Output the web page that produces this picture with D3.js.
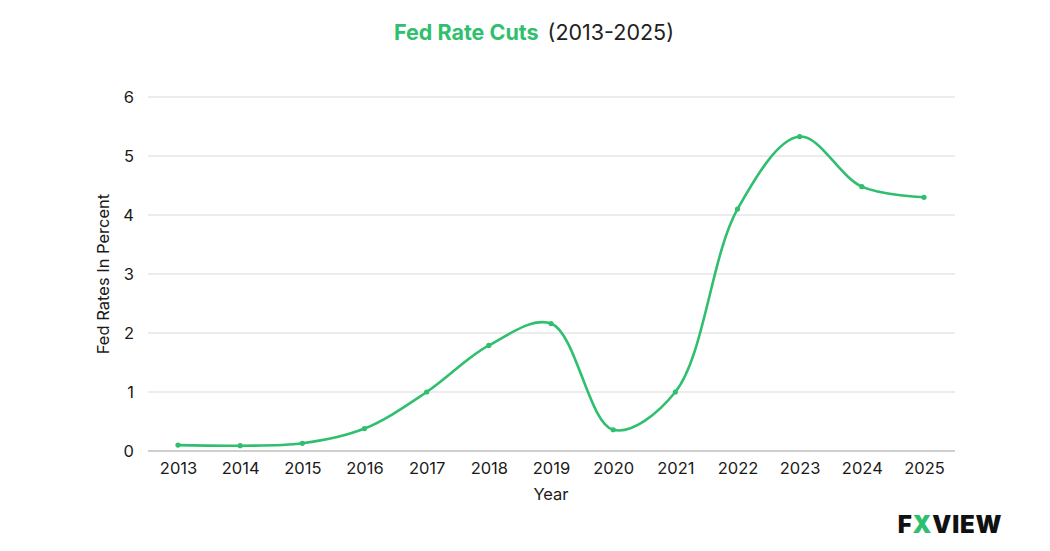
<!DOCTYPE html>
<html>
<head>
<meta charset="UTF-8">
<title>Fed Rate Cuts</title>
<script src="https://cdn.jsdelivr.net/npm/d3@7"></script>
<style>
    body { margin: 0; background: #fff; }
    text { font-family: "Inter", "Open Sans", sans-serif; fill: #1a1a1a; }
</style>
</head>
<body>
<svg id="chart"></svg>
<script>
    var years = [2013, 2014, 2015, 2016, 2017, 2018, 2019, 2020, 2021, 2022, 2023, 2024, 2025];
    var rates = [0.10, 0.09, 0.13, 0.38, 1.00, 1.79, 2.16, 0.36, 1.00, 4.10, 5.33, 4.48, 4.30];
    var yTicks = [0, 1, 2, 3, 4, 5, 6];

    var w = 1050, h = 551;
    var green = "#2fbf6e";

    var svg = d3.select("#chart").attr("width", w).attr("height", h);

    var x = d3.scalePoint().domain(years).range([178, 924]);
    var y = d3.scaleLinear().domain([0, 6]).range([451, 97]);

    // gridlines
    svg.append("g").selectAll("line").data(yTicks).enter().append("line")
        .attr("x1", 148).attr("x2", 955)
        .attr("y1", function (d) { return y(d); })
        .attr("y2", function (d) { return y(d); })
        .attr("stroke", function (d) { return d === 0 ? "#cfcfcf" : "#e6e6e6"; })
        .attr("stroke-width", function (d) { return d === 0 ? 2 : 1.3; });

    // y axis labels
    var yAxis = svg.append("g").attr("transform", "translate(141,0)")
        .call(d3.axisLeft(y).tickValues(yTicks).tickFormat(d3.format("d")).tickSize(0).tickPadding(7));
    yAxis.select(".domain").remove();
    yAxis.selectAll("text").attr("font-size", 16.5).style("font-family", null);

    // x axis labels
    var xAxis = svg.append("g").attr("transform", "translate(0,458)")
        .call(d3.axisBottom(x).tickSize(0).tickPadding(4));
    xAxis.select(".domain").remove();
    xAxis.selectAll("text").attr("font-size", 16.5).style("font-family", null);

    // axis titles
    svg.append("text").attr("x", 551).attr("y", 500)
        .attr("text-anchor", "middle").attr("font-size", 16.5).text("Year");
    svg.append("text")
        .attr("transform", "translate(109,274) rotate(-90)")
        .attr("text-anchor", "middle").attr("font-size", 16.5).text("Fed Rates In Percent");

    // line
    var data = years.map(function (yr, i) { return { year: yr, rate: rates[i] }; });
    var line = d3.line()
        .x(function (d) { return x(d.year); })
        .y(function (d) { return y(d.rate); })
        .curve(d3.curveCatmullRom.alpha(0.5));

    svg.append("path").datum(data)
        .attr("d", line)
        .attr("fill", "none")
        .attr("stroke", green)
        .attr("stroke-width", 2.6);

    svg.append("g").selectAll("circle").data(data).enter().append("circle")
        .attr("cx", function (d) { return x(d.year); })
        .attr("cy", function (d) { return y(d.rate); })
        .attr("r", 2.6)
        .attr("fill", green);

    // title
    var title = svg.append("text").attr("x", 534).attr("y", 40)
        .attr("text-anchor", "middle").attr("font-size", 21.5);
    title.append("tspan").attr("font-weight", 700).style("fill", green).text("Fed Rate Cuts");
    title.append("tspan").attr("dx", 9).style("fill", "#222").text("(2013-2025)");

    // logo
    var logo = svg.append("text").attr("x", 950).attr("y", 533)
        .attr("text-anchor", "middle").attr("font-size", 24).attr("font-weight", 900)
        .attr("letter-spacing", 0.8);
    logo.append("tspan").style("fill", "#111").text("F");
    logo.append("tspan").style("fill", green).text("X");
    logo.append("tspan").style("fill", "#111").text("VIEW");
</script>
</body>
</html>
